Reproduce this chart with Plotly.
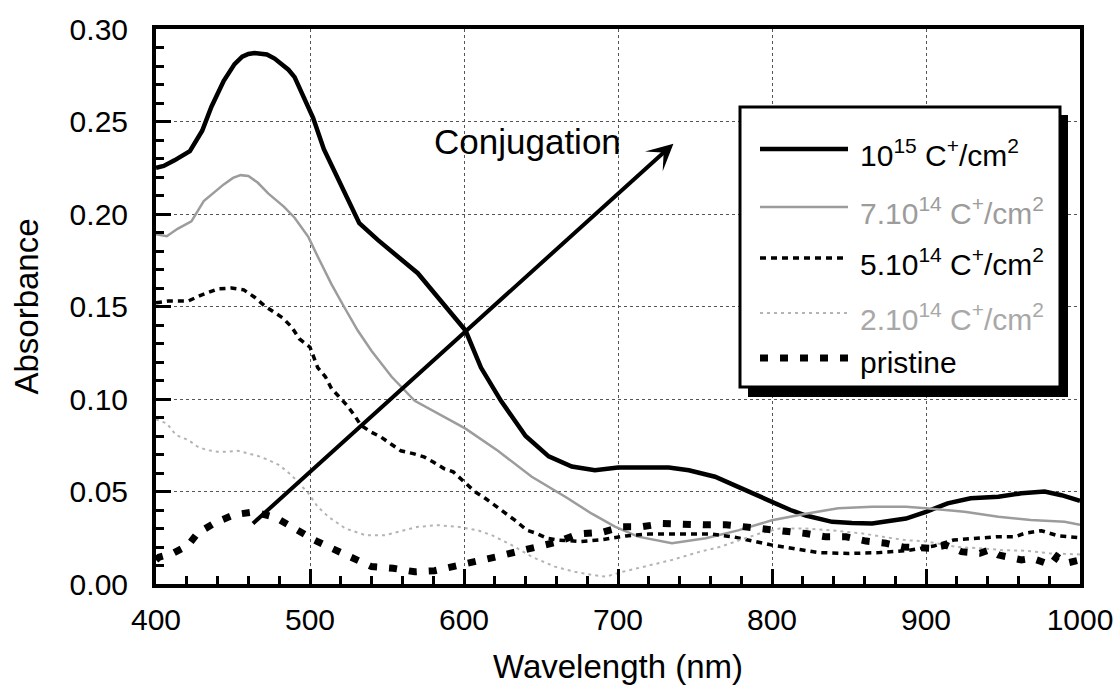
import plotly.graph_objects as go

# ---------------- data ----------------
wl_1e15 = [400, 405, 412, 422, 430, 436, 444, 451, 456, 460, 464, 468, 472, 477, 481, 486, 490, 496,
           502, 509, 516, 522, 532, 544, 557, 570, 583, 594, 601, 611, 624, 640, 655, 670, 685, 700,
           715, 733, 746, 763, 778, 790, 800, 812, 822, 839, 852, 865, 876, 887, 900, 914, 929, 947,
           962, 977, 988, 1000]
abs_1e15 = [0.225, 0.226, 0.229, 0.234, 0.245, 0.258, 0.272, 0.281, 0.285, 0.2865, 0.287, 0.2868,
            0.2862, 0.284, 0.281, 0.278, 0.274, 0.263, 0.252, 0.235, 0.223, 0.213, 0.195, 0.186, 0.177,
            0.168, 0.155, 0.144, 0.137, 0.117, 0.099, 0.080, 0.069, 0.0635, 0.0615, 0.063, 0.063,
            0.063, 0.0615, 0.058, 0.0525, 0.048, 0.0444, 0.040, 0.037, 0.0336, 0.033, 0.0327, 0.034,
            0.0354, 0.039, 0.0436, 0.0463, 0.0472, 0.049, 0.050, 0.048, 0.045]

wl_7e14 = [400, 407, 414, 423, 431, 444, 450, 455, 460, 466, 473, 483, 490, 499, 505, 514, 522, 531,
           540, 553, 568, 588, 601, 622, 644, 666, 683, 698, 713, 735, 757, 778, 800, 822, 843, 865,
           887, 900, 925, 947, 968, 990, 1000]
abs_7e14 = [0.189, 0.188, 0.192, 0.196, 0.207, 0.216, 0.2195, 0.221, 0.2205, 0.217, 0.211, 0.204,
            0.198, 0.1875, 0.177, 0.162, 0.150, 0.137, 0.126, 0.112, 0.099, 0.090, 0.084, 0.072,
            0.058, 0.047, 0.038, 0.031, 0.0256, 0.022, 0.0247, 0.029, 0.0345, 0.038, 0.041, 0.0417,
            0.0417, 0.041, 0.039, 0.0364, 0.0346, 0.0337, 0.032]

wl_5e14 = [400, 408, 421, 429, 440, 449, 457, 464, 471, 482, 488, 493, 500, 505, 510, 514, 518, 524,
           529, 533, 540, 546, 553, 559, 567, 574, 580, 587, 593, 600, 607, 614, 620, 627, 633, 641,
           647, 654, 661, 676, 690, 705, 720, 740, 760, 775, 790, 800, 815, 830, 850, 870, 887, 905,
           918, 931, 947, 958, 964, 975, 986, 1000]
abs_5e14 = [0.152, 0.153, 0.153, 0.156, 0.1595, 0.160, 0.159, 0.155, 0.150, 0.144, 0.139, 0.1326, 0.128,
            0.117, 0.112, 0.1056, 0.102, 0.0966, 0.091, 0.0858, 0.082, 0.0795, 0.0754, 0.072, 0.0705,
            0.0687, 0.066, 0.0624, 0.0606, 0.055, 0.050, 0.0462, 0.0426, 0.038, 0.0345, 0.029, 0.0274,
            0.0247, 0.0237, 0.023, 0.024, 0.026, 0.027, 0.027, 0.027, 0.0255, 0.023, 0.021, 0.019,
            0.017, 0.0165, 0.017, 0.018, 0.0205, 0.0238, 0.0247, 0.0256, 0.0256, 0.0274, 0.0288,
            0.026, 0.025]

wl_2e14 = [400, 407, 413, 421, 427, 433, 440, 446, 453, 459, 467, 473, 480, 488, 499, 505, 512, 523,
           536, 549, 557, 570, 583, 596, 609, 618, 631, 644, 659, 672, 683, 692, 703, 713, 735, 753,
           766, 779, 792, 805, 822, 839, 859, 872, 887, 900, 920, 935, 950, 965, 980, 1000]
abs_2e14 = [0.089, 0.0868, 0.0805, 0.0778, 0.0742, 0.0724, 0.0715, 0.0715, 0.072, 0.0707, 0.069, 0.067,
            0.0643, 0.0588, 0.049, 0.0417, 0.0363, 0.030, 0.0264, 0.0264, 0.0282, 0.0309, 0.0318,
            0.0309, 0.029, 0.0264, 0.021, 0.0147, 0.0094, 0.0066, 0.0049, 0.004, 0.0066, 0.0085,
            0.013, 0.0174, 0.020, 0.0237, 0.0273, 0.030, 0.030, 0.029, 0.0273, 0.0255, 0.0237, 0.023,
            0.020, 0.0193, 0.0183, 0.018, 0.0166, 0.016]

wl_pristine = [400, 402, 411, 421, 427, 439, 451, 464, 478, 491, 503, 514, 527, 540, 554, 568, 581, 594,
               607, 621, 634, 648, 661, 674, 690, 703, 716, 729, 742, 756, 770, 783, 796, 809, 822,
               835, 848, 861, 874, 885, 895, 903, 913, 923, 935, 941, 947, 962, 969, 981, 985, 991, 1000]
abs_pristine = [0.013, 0.0145, 0.0166, 0.021, 0.0275, 0.0334, 0.0375, 0.039, 0.0358, 0.029, 0.0237,
                0.0193, 0.0139, 0.0094, 0.0085, 0.0066, 0.0072, 0.0094, 0.012, 0.0147, 0.0174, 0.020,
                0.0228, 0.027, 0.028, 0.031, 0.031, 0.0327, 0.032, 0.032, 0.032, 0.031, 0.030, 0.0285,
                0.0273, 0.0255, 0.0255, 0.0232, 0.022, 0.020, 0.020, 0.0193, 0.021, 0.0175, 0.0166,
                0.0184, 0.0157, 0.013, 0.0139, 0.0103, 0.0148, 0.0112, 0.013]

series_names = ["10<sup>15</sup> C<sup>+</sup>/cm<sup>2</sup>",
                "7.10<sup>14</sup> C<sup>+</sup>/cm<sup>2</sup>",
                "5.10<sup>14</sup> C<sup>+</sup>/cm<sup>2</sup>",
                "2.10<sup>14</sup> C<sup>+</sup>/cm<sup>2</sup>",
                "pristine"]
x_ticks = [400, 500, 600, 700, 800, 900, 1000]
y_ticks = [0.00, 0.05, 0.10, 0.15, 0.20, 0.25, 0.30]

# ---------------- styles ----------------
FONT = "Arial, 'Liberation Sans', sans-serif"
styles = [
    dict(color="#000000", width=4.5, dash="solid"),
    dict(color="#9c9c9c", width=2.5, dash="solid"),
    dict(color="#000000", width=3.5, dash="6px,5px"),
    dict(color="#b4b4b4", width=2, dash="3px,4px"),
    dict(color="#000000", width=7, dash="8px,12px"),
]
text_colors = ["#000000", "#9c9c9c", "#000000", "#a8a8a8", "#000000"]

xs = [wl_1e15, wl_7e14, wl_5e14, wl_2e14, wl_pristine]
ys = [abs_1e15, abs_7e14, abs_5e14, abs_2e14, abs_pristine]

fig = go.Figure()
for x, y, nm, st in zip(xs, ys, series_names, styles):
    fig.add_trace(go.Scatter(x=x, y=y, mode="lines", name=nm, line=st, showlegend=False))

# plot-area geometry (pixels) for placing the legend box
L, R, T, B = 156, 1080, 29, 584
W, H = 1119, 685
def pxx(p):
    return (p - L) / (R - L)
def pxy(p):
    return (B - p) / (B - T)

shapes = [
    dict(type="rect", xref="paper", yref="paper", x0=pxx(748), x1=pxx(1068), y0=pxy(397), y1=pxy(115),
         fillcolor="black", line=dict(width=0), layer="above"),
    dict(type="rect", xref="paper", yref="paper", x0=pxx(740), x1=pxx(1060), y0=pxy(387), y1=pxy(107),
         fillcolor="white", line=dict(color="black", width=3), layer="above"),
]
annotations = []
row_y = [149, 207, 258, 313, 358]
for ry, nm, st, tc in zip(row_y, series_names, styles, text_colors):
    shapes.append(dict(type="line", xref="paper", yref="paper", x0=pxx(760), x1=pxx(848),
                       y0=pxy(ry), y1=pxy(ry), line=st, layer="above"))
    annotations.append(dict(xref="paper", yref="paper", x=pxx(858), y=pxy(ry + 4), text=nm,
                            showarrow=False, xanchor="left", yanchor="middle",
                            font=dict(family=FONT, size=30, color=tc)))

annotations.append(dict(x=736, y=0.238, ax=462, ay=0.032, xref="x", yref="y", axref="x", ayref="y",
                        text="", showarrow=True, arrowhead=3, arrowsize=1.1, arrowwidth=4,
                        arrowcolor="black", standoff=0))
annotations.append(dict(x=641, y=0.239, xref="x", yref="y", text="Conjugation", showarrow=False,
                        xanchor="center", yanchor="middle", font=dict(family=FONT, size=35, color="black")))

axis_common = dict(
    showline=True, linewidth=4, linecolor="black", mirror=True,
    ticks="inside", ticklen=15, tickwidth=3, tickcolor="black",
    showgrid=True, gridcolor="#555555", gridwidth=1, griddash="dot",
    zeroline=False, tickfont=dict(family=FONT, size=30, color="black"),
)
fig.update_xaxes(range=[400, 1000], tickvals=x_ticks, ticktext=[str(v) for v in x_ticks],
                 minor=dict(dtick=20, ticks="inside", ticklen=8, tickwidth=3, tickcolor="black", showgrid=False),
                 title=dict(text="Wavelength (nm)", font=dict(family=FONT, size=33, color="black"), standoff=21),
                 ticklabelstandoff=6, automargin=False, **axis_common)
fig.update_yaxes(range=[0, 0.30], tickvals=y_ticks, ticktext=[f"{v:.2f}" for v in y_ticks],
                 minor=dict(dtick=0.01, ticks="inside", ticklen=8, tickwidth=3, tickcolor="black", showgrid=False),
                 title=dict(text="Absorbance", font=dict(family=FONT, size=33, color="black"), standoff=22),
                 ticklabelstandoff=18, automargin=False, **axis_common)

fig.update_layout(width=W, height=H, margin=dict(l=L, r=W - R, t=T, b=H - B),
                  paper_bgcolor="white", plot_bgcolor="white",
                  shapes=shapes, annotations=annotations, showlegend=False,
                  font=dict(family=FONT))

fig.write_html("out.html", config={"displayModeBar": False},
               post_script="document.body.style.margin='0px';document.body.style.overflow='hidden';")
